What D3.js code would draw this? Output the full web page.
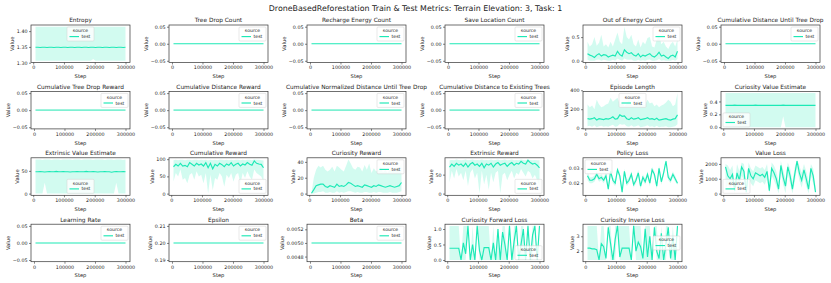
<!DOCTYPE html>
<html><head><meta charset="utf-8">
<script src="https://cdn.jsdelivr.net/npm/d3@7"></script>
<style>body{margin:0;background:#fff} text{font-family:"DejaVu Sans",sans-serif;fill:#222}</style>
</head><body><svg id="chart" width="831" height="283"></svg>
<script>
// step values for the noisy series
const steps = [7500,15000,22500,30000,37500,45000,52500,60000,67500,75000,82500,90000,97500,105000,112500,120000,127500,135000,142500,150000,157500,165000,172500,180000,187500,195000,202500,210000,217500,225000,232500,240000,247500,255000,262500,270000,277500,285000,292500,300000];
const flatSteps = [5000, 300000];

const zeroLine = [0, 0];
const epsilon = [0.2, 0.2];
const beta = [0.005, 0.005];

const entropyMean = [1.349,1.349,1.348,1.349,1.349,1.348,1.349,1.349,1.348,1.349,1.349,1.348,1.349,1.349,1.348,1.349,1.349,1.348,1.349,1.349,1.348,1.349,1.349,1.348,1.349,1.349,1.348,1.349,1.349,1.348,1.349,1.349,1.348,1.349,1.349,1.348,1.349,1.349,1.348,1.349];
const entropyLo = [1.306,1.306,1.306,1.306,1.306,1.306,1.306,1.306,1.306,1.306,1.306,1.306,1.306,1.306,1.306,1.306,1.306,1.306,1.306,1.306,1.306,1.306,1.306,1.306,1.306,1.312,1.306,1.306,1.306,1.306,1.306,1.306,1.306,1.306,1.306,1.306,1.306,1.306,1.306,1.306];
const entropyHi = [1.414,1.414,1.414,1.414,1.414,1.414,1.414,1.414,1.414,1.414,1.414,1.414,1.414,1.414,1.414,1.414,1.414,1.414,1.414,1.414,1.414,1.414,1.414,1.414,1.414,1.414,1.414,1.414,1.414,1.414,1.414,1.414,1.414,1.414,1.414,1.414,1.414,1.414,1.414,1.414];

const energyMean = [0.15,0.12,0.10,0.07,0.12,0.15,0.10,0.13,0.12,0.08,0.10,0.12,0.10,0.20,0.13,0.10,0.23,0.18,0.15,0.17,0.12,0.10,0.15,0.08,0.12,0.10,0.13,0.15,0.10,0.08,0.12,0.18,0.10,0.12,0.08,0.05,0.10,0.12,0.08,0.20];
const energyLo = [0.02,0,0,0,0.02,0.03,0,0.02,0.01,0,0,0.02,0,0.05,0.02,0,0.05,0.03,0.02,0.03,0,0,0.02,0,0.01,0,0.02,0.03,0,0,0.01,0.04,0,0.01,0,0,0,0.02,0,0.04];
const energyHi = [0.40,0.30,0.35,0.50,0.32,0.38,0.55,0.30,0.35,0.28,0.40,0.30,0.45,0.60,0.40,0.35,0.72,0.50,0.45,0.55,0.35,0.30,0.45,0.28,0.40,0.35,0.48,0.50,0.30,0.28,0.45,0.55,0.35,0.40,0.30,0.25,0.35,0.40,0.30,0.45];

const episodeMean = [100,95,100,110,85,100,95,90,100,95,105,120,95,100,140,125,130,100,90,110,95,100,110,90,95,100,110,95,100,90,105,85,90,95,100,90,85,95,100,140];
const episodeLo = [20,25,15,30,10,20,25,15,20,15,25,35,15,20,45,35,40,20,15,30,15,20,30,10,15,20,30,15,20,10,25,10,15,15,20,10,10,15,20,40];
const episodeHi = [250,220,240,200,300,250,220,230,250,260,320,280,300,320,250,270,230,260,300,250,230,260,300,250,240,250,300,260,270,230,250,220,240,250,270,300,280,230,250,370];

const curValMean = [0.34,0.341,0.339,0.34,0.342,0.34,0.339,0.341,0.34,0.34,0.339,0.341,0.34,0.342,0.34,0.339,0.34,0.341,0.34,0.339,0.34,0.341,0.34,0.339,0.34,0.342,0.34,0.339,0.341,0.34,0.34,0.339,0.341,0.34,0.34,0.339,0.34,0.341,0.34,0.339];
const curValLo = [0,0,0,0,0,0,0,0,0,0,0,0,0,0,0,0,0,0,0,0,0,0,0,0,0,0.17,0,0,0,0,0,0,0,0,0,0,0,0,0,0];
const curValHi = [0.53,0.53,0.53,0.53,0.53,0.53,0.53,0.53,0.53,0.53,0.53,0.53,0.53,0.53,0.53,0.53,0.53,0.53,0.53,0.53,0.53,0.53,0.53,0.53,0.53,0.53,0.53,0.53,0.53,0.53,0.53,0.53,0.53,0.53,0.53,0.53,0.53,0.53,0.53,0.53];

const extValMean = [48,48,48.5,48,47.5,48,48.5,48,48,49,48,48,48.5,48,48,47.5,48,48,48.5,48,48,48,49,48,48,48.5,48,47.5,48,48,48.5,48,48,47,48,48.5,48,48,48.5,48];
const extValLo = [0,0,0,0,24,0,0,0,0,0,0,0,0,0,0,0,0,0,0,0,0,0,0,0,0,0,0,0,0,0,0,0,0,0,0,24,0,0,0,0];
const extValHi = [75,75,75,74,75,75,75,74,75,75,75,74,75,75,75,75,74,75,75,75,74,75,75,75,75,74,75,75,75,75,74,75,75,75,74,75,75,75,74,75];

const cumRewMean = [78,85,80,88,80,82,78,90,85,80,88,83,86,80,90,75,88,72,85,80,88,84,78,86,82,90,80,85,88,80,86,83,90,85,82,95,88,86,85,75];
const cumRewLo = [35,60,50,70,40,45,30,55,60,40,65,50,55,30,60,0,55,10,45,40,60,50,20,55,45,60,35,55,60,30,60,45,65,50,40,70,60,55,50,35];
const cumRewHi = [97,98,97,98,98,97,98,98,97,98,98,97,98,97,98,96,98,97,98,97,98,98,97,98,97,98,97,98,98,97,98,97,98,98,97,99,98,98,97,96];

const curRewMean = [0.5,5,10,11,12,12,9,8,10,9,8,12,9,10,9,11,14,13,11,9,10,9,8,11,10,9,8,10,9,11,10,9,8,9,10,9,8,9,10,14];
const curRewLo = [0,0,1,2,2,3,1,1,2,1,1,3,1,2,1,2,3,3,2,1,2,1,1,2,2,1,1,2,1,2,2,1,1,1,2,1,1,1,2,3];
const curRewHi = [1,20,30,35,33,35,30,28,30,34,28,35,33,30,28,35,43,38,32,30,34,33,28,36,30,38,26,32,28,30,34,27,30,26,32,30,28,34,30,38];

const extRewMean = [70,78,72,80,75,78,72,80,70,78,82,75,78,72,80,68,78,75,80,70,78,82,75,78,80,72,78,82,75,80,78,85,80,78,88,82,78,80,75,68];
const extRewLo = [30,60,40,65,45,55,35,60,20,55,65,40,55,0,60,25,50,10,55,30,55,60,0,50,55,35,50,60,40,55,50,65,55,45,60,55,40,50,35,20];
const extRewHi = [88,89,88,90,89,88,89,90,88,89,90,88,89,88,90,88,89,88,90,88,89,90,88,89,90,88,89,90,88,89,88,90,89,88,90,89,88,89,88,88];

const polMean = [0.025,0.022,0.022,0.023,0.026,0.023,0.024,0.022,0.025,0.016,0.028,0.022,0.020,0.029,0.025,0.014,0.028,0.020,0.022,0.026,0.019,0.022,0.027,0.018,0.024,0.021,0.026,0.020,0.029,0.026,0.018,0.030,0.021,0.027,0.035,0.024,0.022,0.026,0.023,0.020];
const polLo = [0.022,0.020,0.020,0.021,0.024,0.021,0.022,0.020,0.023,0.015,0.026,0.020,0.018,0.027,0.023,0.013,0.026,0.018,0.020,0.024,0.017,0.020,0.025,0.016,0.022,0.019,0.024,0.018,0.027,0.024,0.016,0.028,0.019,0.025,0.033,0.022,0.020,0.024,0.021,0.019];
const polHi = [0.028,0.024,0.024,0.025,0.028,0.025,0.026,0.024,0.027,0.018,0.030,0.024,0.022,0.031,0.027,0.016,0.030,0.022,0.024,0.028,0.021,0.024,0.029,0.020,0.026,0.023,0.028,0.022,0.031,0.028,0.020,0.032,0.023,0.029,0.036,0.026,0.024,0.028,0.025,0.021];

const vlossMean = [1800,1200,1000,1300,200,1400,900,1800,1500,100,1700,1200,1000,1400,1300,1200,1300,1100,1500,200,1700,1400,1000,300,1900,1100,500,1800,1200,300,1300,2200,1400,900,1600,1000,300,1700,1200,100];
const vlossLo = [300,600,400,700,0,800,300,1200,900,0,1100,700,500,900,800,700,800,600,1000,0,1200,900,500,0,1400,600,0,1300,700,0,800,1700,900,400,1100,500,0,1200,700,0];
const vlossHi = [2000,1900,1600,1900,700,2000,1500,2100,2000,500,2100,1700,1500,1900,1800,1700,1800,1600,2000,700,2100,1900,1500,800,2200,1600,1000,2100,1700,800,1800,2300,1900,1400,2000,1500,800,2000,1700,500];

const fwdMean = [0.38,0.38,0.38,0.38,0.38,0.0,0.55,0.2,1.1,0.0,0.5,0.0,1.1,0.3,0.0,0.4,0.4,0.4,0.0,0.55,0.0,1.0,0.0,0.9,0.5,0.0,1.1,0.0,0.6,1.1,0.0,0.5,1.0,0.0,1.1,0.0,0.8,1.1,0.0,1.1];
const fwdLo = [0,0,0,0,0,0,0,0,1.1,0,0,0,1.1,0,0,0,0,0,0,0,0,0,0,0,0,0,1.1,0,0,1.1,0,0,0,0,1.1,0,0,1.1,0,1.1];
const fwdHi = [1.1,1.1,1.1,1.1,1.1,0,1.1,1.1,1.1,0,1.1,0,1.1,1.1,1.1,1.1,1.1,1.1,0,1.1,0,1.1,0,1.1,1.1,0,1.1,0,1.1,1.1,0,1.1,1.1,0,1.1,0,1.1,1.1,0,1.1];

const invMean = [2.2,2.2,2.15,2.15,2.1,1.4,2.5,2.3,1.5,3.6,2.5,1.4,2.8,3.7,1.6,2.2,2.2,2.2,2.2,1.4,3.7,2.0,2.6,2.3,1.5,3.5,1.6,3.0,1.4,3.6,2.0,1.5,3.2,1.4,2.5,3.6,1.5,3.0,1.4,3.7];
const invLo = [1.4,1.4,1.4,1.4,1.4,1.4,1.4,1.4,1.4,3.6,1.4,1.4,1.4,3.7,1.4,1.4,1.4,1.4,1.4,1.4,3.7,1.4,1.4,1.4,1.4,1.4,1.4,1.4,1.4,3.6,1.4,1.4,1.4,1.4,1.4,3.6,1.4,1.4,1.4,3.7];
const invHi = [3.7,3.7,3.7,3.7,3.7,1.4,3.7,3.7,1.5,3.7,3.7,1.4,3.7,3.7,3.7,3.7,3.7,3.7,3.7,1.4,3.7,3.7,3.7,3.7,1.5,3.7,3.7,3.7,1.4,3.7,3.7,1.5,3.7,1.4,3.7,3.7,1.5,3.7,1.4,3.7];

const zeroTicks = [-0.05, 0, 0.05];
const xTicks = [0, 100000, 200000, 300000];

const panels = [
  {title:"Entropy", x:steps, y:entropyMean, lo:entropyLo, hi:entropyHi, ticks:[1.30,1.35,1.40], fmt:".2f", leg:"uc"},
  {title:"Tree Drop Count", x:flatSteps, y:zeroLine, ticks:zeroTicks, fmt:".2f", leg:"ur"},
  {title:"Recharge Energy Count", x:flatSteps, y:zeroLine, ticks:zeroTicks, fmt:".2f", leg:"ur"},
  {title:"Save Location Count", x:flatSteps, y:zeroLine, ticks:zeroTicks, fmt:".2f", leg:"ur"},
  {title:"Out of Energy Count", x:steps, y:energyMean, lo:energyLo, hi:energyHi, ticks:[0,0.5], fmt:".1f", leg:"ur"},
  {title:"Cumulative Distance Until Tree Drop", x:flatSteps, y:zeroLine, ticks:zeroTicks, fmt:".2f", leg:"ur"},
  {title:"Cumulative Tree Drop Reward", x:flatSteps, y:zeroLine, ticks:zeroTicks, fmt:".2f", leg:"ur", thick:true},
  {title:"Cumulative Distance Reward", x:flatSteps, y:zeroLine, ticks:zeroTicks, fmt:".2f", leg:"ur", thick:true},
  {title:"Cumulative Normalized Distance Until Tree Drop", x:flatSteps, y:zeroLine, ticks:zeroTicks, fmt:".2f", leg:"ur", thick:true},
  {title:"Cumulative Distance to Existing Trees", x:flatSteps, y:zeroLine, ticks:zeroTicks, fmt:".2f", leg:"ur", thick:true},
  {title:"Episode Length", x:steps, y:episodeMean, lo:episodeLo, hi:episodeHi, ticks:[0,200,400], fmt:"d", leg:"uc"},
  {title:"Curiosity Value Estimate", x:steps, y:curValMean, lo:curValLo, hi:curValHi, ticks:[0,0.2,0.4], fmt:".1f", leg:"ll"},
  {title:"Extrinsic Value Estimate", x:steps, y:extValMean, lo:extValLo, hi:extValHi, ticks:[0,50], fmt:"d", leg:"lc"},
  {title:"Cumulative Reward", x:steps, y:cumRewMean, lo:cumRewLo, hi:cumRewHi, ticks:[0,50,100], fmt:"d", leg:"lr"},
  {title:"Curiosity Reward", x:steps, y:curRewMean, lo:curRewLo, hi:curRewHi, ticks:[0,20,40], fmt:"d", leg:"ur"},
  {title:"Extrinsic Reward", x:steps, y:extRewMean, lo:extRewLo, hi:extRewHi, ticks:[0,50], fmt:"d", leg:"lr"},
  {title:"Policy Loss", x:steps, y:polMean, lo:polLo, hi:polHi, ticks:[0.02,0.03], fmt:".2f", leg:"ul"},
  {title:"Value Loss", x:steps, y:vlossMean, lo:vlossLo, hi:vlossHi, ticks:[0,1000,2000], fmt:"d", leg:"ll"},
  {title:"Learning Rate", x:flatSteps, y:zeroLine, ticks:zeroTicks, fmt:".2f", leg:"ur"},
  {title:"Epsilon", x:flatSteps, y:epsilon, ticks:[0.19,0.20,0.21], fmt:".2f", leg:"ur"},
  {title:"Beta", x:flatSteps, y:beta, ticks:[0.0048,0.0050,0.0052], fmt:".4f", leg:"ur"},
  {title:"Curiosity Forward Loss", x:steps, y:fwdMean, lo:fwdLo, hi:fwdHi, ticks:[0,0.5,1.0], fmt:".1f", leg:"lr"},
  {title:"Curiosity Inverse Loss", x:steps, y:invMean, lo:invLo, hi:invHi, ticks:[2,3], fmt:"d", leg:"cr"}
];

const color = "#1de9b6";
const svg = d3.select("#chart");

svg.append("text")
  .attr("x", 415.5).attr("y", 11)
  .attr("text-anchor", "middle")
  .style("font-size", "7.9px")
  .text("DroneBasedReforestation Train & Test Metrics: Terrain Elevation: 3, Task: 1");

const W = 99, H = 37.5;

panels.forEach((p, i) => {
  const col = i % 6, row = Math.floor(i / 6);
  const left = 31 + col * 138, top = 25 + row * 66.4;
  const g = svg.append("g").attr("transform", `translate(${left},${top})`);

  // matplotlib-like autoscale with 5% margins
  const xe = d3.extent(p.x);
  const xr = xe[1] - xe[0];
  const x = d3.scaleLinear().domain([xe[0] - 0.05 * xr, xe[1] + 0.05 * xr]).range([0, W]);

  let lo = d3.min(p.lo || p.y), hi = d3.max(p.hi || p.y);
  if (lo === hi) {
    if (lo === 0) { lo = -0.05; hi = 0.05; } else { const v = lo; lo = v * 0.95; hi = v * 1.05; }
  }
  const yr = hi - lo;
  const y = d3.scaleLinear().domain([lo - 0.05 * yr, hi + 0.05 * yr]).range([H, 0]);

  const pts = p.x.map((s, k) => ({s, v: p.y[k], l: p.lo ? p.lo[k] : null, h: p.hi ? p.hi[k] : null}));

  if (p.lo) {
    g.append("path").datum(pts)
      .attr("d", d3.area().x(d => x(d.s)).y0(d => y(d.l)).y1(d => y(d.h)))
      .attr("fill", color).attr("fill-opacity", 0.2);
  }
  g.append("path").datum(pts)
    .attr("d", d3.line().x(d => x(d.s)).y(d => y(d.v)))
    .attr("fill", "none").attr("stroke", p.thick ? "#7ef0d2" : color)
    .attr("stroke-width", p.thick ? 1.8 : 1.15);

  // frame
  g.append("rect").attr("width", W).attr("height", H)
    .attr("fill", "none").attr("stroke", "#333").attr("stroke-width", 0.7);

  const xa = g.append("g").attr("transform", `translate(0,${H})`)
    .call(d3.axisBottom(x).tickValues(xTicks).tickFormat(d3.format("d")).tickSize(2).tickPadding(1.5));
  const ya = g.append("g")
    .call(d3.axisLeft(y).tickValues(p.ticks).tickFormat(d3.format(p.fmt)).tickSize(2).tickPadding(1.5));
  [xa, ya].forEach(a => {
    a.select(".domain").remove();
    a.selectAll("line").attr("stroke", "#333").attr("stroke-width", 0.6);
    a.selectAll("text").style("font-size", "4.8px").attr("fill", "#222").style("font-family", "DejaVu Sans");
  });

  let tw = 0;
  ya.selectAll("text").each(function(){ tw = Math.max(tw, this.getComputedTextLength()); });

  g.append("text").attr("x", W / 2).attr("y", -2.6).attr("text-anchor", "middle")
    .style("font-size", "5.85px").text(p.title);
  g.append("text").attr("x", W / 2).attr("y", H + 15.8).attr("text-anchor", "middle")
    .style("font-size", "5.2px").text("Step");
  g.append("text").attr("transform", `translate(${-tw - 6},${H / 2}) rotate(-90)`)
    .attr("text-anchor", "middle").style("font-size", "5.2px").text("Value");

  // legend
  const lw = 27, lh = 14;
  let lx = W - lw - 2, ly = 2;
  if (p.leg === "uc") lx = (W - lw) / 2;
  if (p.leg === "ul" || p.leg === "ll") lx = 2;
  if (p.leg === "lc") lx = (W - lw) / 2;
  if (p.leg[0] === "l") ly = H - lh - 2;
  if (p.leg === "cr") ly = (H - lh) / 2;
  const lg = g.append("g").attr("transform", `translate(${lx},${ly})`);
  lg.append("rect").attr("width", lw).attr("height", lh).attr("rx", 1)
    .attr("fill", "#fff").attr("fill-opacity", 0.8).attr("stroke", "#d0d0d0").attr("stroke-width", 0.5);
  lg.append("text").attr("x", lw / 2).attr("y", 5.3).attr("text-anchor", "middle")
    .style("font-size", "4.6px").text("source");
  lg.append("line").attr("x1", 2.5).attr("x2", 12).attr("y1", 9.6).attr("y2", 9.6)
    .attr("stroke", color).attr("stroke-width", 1.15);
  lg.append("text").attr("x", 14.5).attr("y", 11.2)
    .style("font-size", "4.6px").text("test");
});
</script></body></html>
